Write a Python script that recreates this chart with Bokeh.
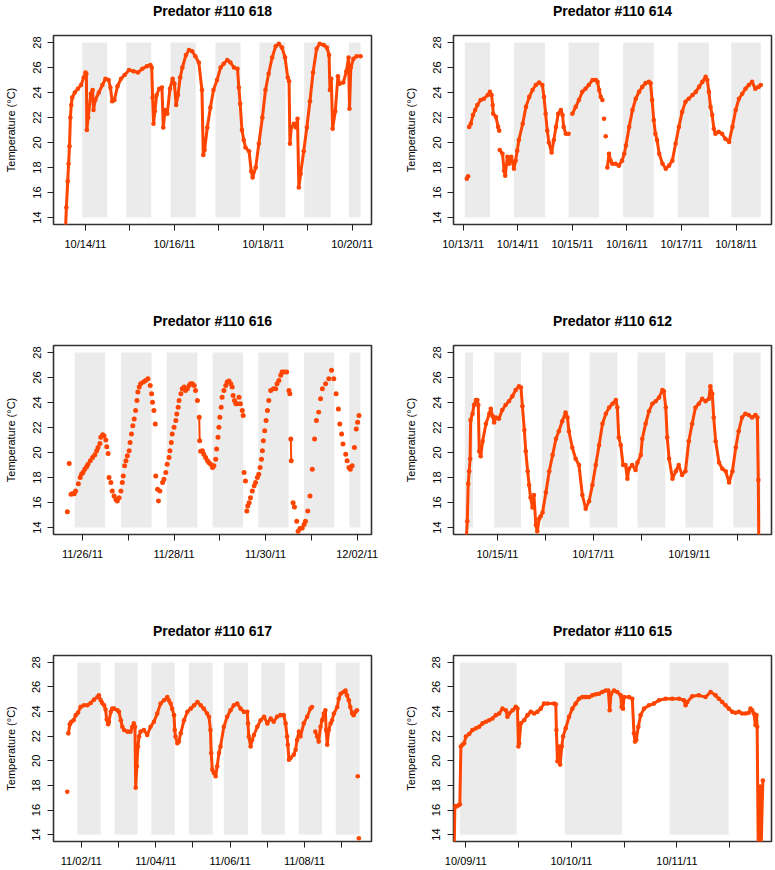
from bokeh.plotting import figure
from bokeh.layouts import column, row
from bokeh.models import FixedTicker, Range1d, Title
from bokeh.embed import file_html
from bokeh.resources import INLINE

NAN = float("nan")

TEMP_TICKS = [14, 16, 18, 20, 22, 24, 26, 28]
Y_LOW, Y_HIGH = 14, 28

# ---------- Predator #110 618 : time in days after 10/13/11 00:00 ----------
T618 = [0.55,0.57,0.60,0.62,0.64,0.66,0.68,0.70,0.76,0.83,0.90,0.96,1.00,1.02,1.03,1.06,1.12,1.16,1.18,1.22,
        1.30,1.38,1.45,1.52,1.56,1.60,1.65,1.72,1.80,1.88,1.98,2.08,2.18,2.28,2.38,2.46,2.49,2.51,2.53,2.56,
        2.60,2.66,2.72,2.75,2.79,2.84,2.90,2.96,3.00,3.04,3.08,3.13,3.18,3.26,3.33,3.40,3.47,3.55,3.62,3.65,
        3.68,3.74,3.81,3.88,3.96,4.04,4.11,4.19,4.26,4.34,4.42,4.45,4.48,4.52,4.56,4.60,4.68,4.73,4.76,4.83,
        4.90,4.98,5.05,5.12,5.20,5.28,5.35,5.42,5.49,5.55,5.58,5.60,5.63,5.69,5.74,5.77,5.80,5.84,5.91,5.98,
        6.05,6.12,6.20,6.27,6.36,6.43,6.48,6.50,6.53,6.56,6.62,6.68,6.72,6.80,6.87,6.92,6.94,6.97,7.03,7.10,7.19]
V618 = [13.0,14.8,16.9,18.3,19.7,22.0,23.0,23.6,24.0,24.3,24.6,25.2,25.6,25.5,21.0,22.0,23.9,24.2,22.6,23.4,
        24.0,24.6,25.1,25.0,24.4,23.3,23.4,24.5,25.1,25.4,25.8,25.7,25.6,25.9,26.1,26.2,26.0,23.6,21.5,22.5,
        23.8,24.3,24.4,21.2,22.6,22.3,24.3,25.1,24.7,23.0,23.8,25.2,26.0,27.0,27.4,27.3,26.9,26.4,24.2,19.0,
        19.4,21.2,22.8,24.2,25.0,26.0,26.3,26.6,26.4,26.0,25.9,24.4,23.1,21.0,20.2,19.6,19.3,17.7,17.2,18.0,
        19.9,22.0,24.2,25.5,26.8,27.7,27.9,27.6,26.8,25.2,24.9,19.9,21.2,21.5,21.2,21.9,16.4,17.5,19.3,21.2,
        23.3,25.6,27.5,27.9,27.8,27.6,27.0,24.2,25.1,21.1,22.5,25.3,24.7,24.8,25.7,26.8,22.7,26.0,26.7,26.9,26.9]
DARK618_START = [0.926, 1.916, 2.913, 3.925, 4.915, 5.920, 6.925]
DARK618_END = [1.488, 2.478, 3.482, 4.488, 5.500, 6.513, 7.190]
TICK618 = [1, 2, 3, 4, 5, 6, 7]
LAB618 = ["10/14/11", "", "10/16/11", "", "10/18/11", "", "10/20/11"]
XLIM618 = (0.28, 7.435)

# ---------- Predator #110 614 : days after 10/13/11 ----------
T614 = [0.067,0.09,NAN,0.11,0.14,0.18,0.22,0.26,0.32,0.38,0.45,0.49,0.52,0.54,0.55,0.60,0.64,0.66,NAN,
        0.67,0.72,0.75,0.77,0.81,0.84,0.88,0.93,0.96,0.99,1.02,1.09,1.15,1.21,1.27,1.33,1.39,1.45,1.48,1.51,
        1.54,1.57,1.62,1.66,1.70,1.74,1.79,1.82,1.84,1.88,1.93,NAN,2.00,2.06,2.12,2.18,2.24,2.30,2.37,2.43,
        2.46,2.49,2.52,2.55,NAN,2.58,NAN,2.61,NAN,2.64,2.67,2.70,2.73,2.79,2.85,2.91,2.95,2.98,3.04,3.10,
        3.16,3.22,3.28,3.34,3.40,3.43,3.46,3.49,3.52,3.55,3.59,3.65,3.71,3.77,3.83,3.89,3.95,4.01,4.07,4.13,
        4.20,4.26,4.32,4.38,4.44,4.47,4.50,4.53,4.56,4.59,4.62,4.68,4.74,4.80,4.87,4.93,4.99,5.05,5.11,5.17,
        5.23,5.29,5.35,5.41,5.45]
V614 = [17.1,17.3,NAN,21.25,21.5,22.2,22.6,23.0,23.4,23.5,23.8,24.05,23.8,23.0,22.3,22.05,21.25,20.95,NAN,
        19.4,19.1,17.75,17.35,18.85,18.3,18.85,17.9,18.55,19.35,20.2,21.5,22.85,23.65,24.2,24.6,24.8,24.6,23.65,22.3,
        20.95,20.0,19.2,20.2,21.25,22.3,22.6,22.2,21.25,20.7,20.7,NAN,22.3,22.85,23.4,24.05,24.3,24.6,25.0,25.0,
        24.85,24.2,23.65,23.4,NAN,21.9,NAN,20.5,NAN,18.0,19.1,18.55,18.3,18.3,18.15,18.55,19.1,19.75,21.25,22.6,
        23.5,24.05,24.45,24.75,24.85,24.75,23.4,21.8,20.7,20.2,19.1,18.3,17.9,18.15,18.55,19.9,21.25,22.45,23.25,23.5,
        23.8,24.05,24.45,24.85,25.25,25.0,24.05,22.85,22.2,21.1,20.7,20.85,20.7,20.3,20.05,21.25,22.6,23.5,23.9,24.3,
        24.6,24.85,24.3,24.45,24.6]
DARK614_START = [0.03, 0.93, 1.93, 2.93, 3.93, 4.91]
DARK614_END = [0.49, 1.50, 2.49, 3.49, 4.50, 5.45]
TICK614 = [0, 1, 2, 3, 4, 5]
LAB614 = ["10/13/11", "10/14/11", "10/15/11", "10/16/11", "10/17/11", "10/18/11"]
XLIM614 = (-0.177, 5.646)

# ---------- Predator #110 616 : days after 11/26/11 ----------
T616 = [-0.33,-0.29,-0.25,-0.22,-0.18,-0.15,-0.09,-0.05,-0.02,0.01,0.05,0.09,0.12,0.17,0.22,0.27,0.31,0.34,0.38,0.40,
        0.44,0.47,0.51,0.53,0.56,0.58,0.62,0.65,0.69,0.73,0.76,0.80,0.84,0.87,0.89,0.92,0.95,0.98,1.02,1.04,
        1.07,1.10,1.13,1.16,1.19,1.21,1.24,1.27,1.33,1.38,1.43,1.48,1.51,1.53,1.56,1.59,1.60,1.64,1.66,1.69,
        1.75,1.78,1.82,1.85,1.89,1.91,1.94,1.96,2.00,2.04,2.06,2.09,2.11,2.15,2.18,2.22,2.25,2.29,2.33,2.36,
        2.40,2.44,2.47,2.51,2.55,2.56,2.58,2.62,2.65,2.69,2.73,2.76,2.80,2.84,2.87,2.91,2.93,2.96,2.98,3.00,
        3.03,3.05,3.09,3.13,3.16,3.20,3.24,3.27,3.29,3.32,3.35,3.38,3.42,3.45,3.49,3.51,3.53,3.56,3.59,3.61,
        3.64,3.67,3.71,3.75,3.78,3.82,3.85,3.88,3.91,3.93,3.95,3.98,4.01,4.04,4.07,4.11,4.17,4.22,4.25,4.29,
        4.33,4.36,4.40,4.46,4.51,4.53,4.55,4.56,4.60,4.63,4.68,4.71,4.75,4.80,4.84,4.87,4.92,4.97,5.02,5.07,
        5.11,5.16,5.20,5.24,5.31,5.38,5.44,5.49,5.54,5.59,5.62,5.66,5.69,5.75,5.78,5.82,5.85,5.89,5.94,5.98,
        6.01,6.04]
V616 = [15.26,19.12,16.66,16.71,16.71,16.92,17.5,18.0,18.27,18.4,18.67,18.86,19.07,19.34,19.6,19.82,20.14,20.41,20.73,21.22,
        21.43,21.35,21.0,20.46,19.93,18.0,17.6,16.92,16.52,16.25,16.12,16.39,16.92,17.6,18.13,18.94,19.34,19.74,20.14,20.81,
        21.48,22.15,22.69,23.36,24.17,24.84,25.24,25.5,25.64,25.77,25.91,25.37,24.7,24.03,23.36,22.29,18.13,17.06,16.12,16.92,
        17.6,17.86,18.4,19.07,19.6,20.14,20.81,21.48,22.02,22.56,23.09,23.63,24.17,24.7,25.1,25.24,24.97,25.1,25.37,25.5,
        25.5,25.37,24.97,24.17,22.82,20.95,20.1,20.14,19.87,19.6,19.34,19.2,19.07,18.8,18.94,19.47,20.28,21.22,22.02,22.82,
        23.63,24.43,24.97,25.37,25.64,25.72,25.5,25.24,24.57,24.17,23.9,23.9,24.43,23.9,23.36,22.96,18.4,17.73,15.32,15.72,
        15.99,16.39,16.92,17.33,17.6,18.0,18.27,18.8,19.47,20.14,20.95,21.75,22.56,23.36,24.17,24.97,25.1,25.1,25.5,25.77,
        26.18,26.44,26.44,26.44,24.97,24.7,21.08,19.34,15.99,15.64,14.51,13.7,13.92,13.97,14.24,14.51,15.32,16.52,18.67,21.08,
        22.56,23.23,24.3,25.1,25.5,25.91,26.58,25.91,24.7,23.49,22.29,21.48,20.68,19.87,19.34,18.8,18.67,18.94,20.41,21.89,
        22.42,22.96]
LINK616 = [84, 146]          # readings joined to the next one
DARK616_START = [-0.17, 0.84, 1.84, 2.84, 3.84, 4.84, 5.83]
DARK616_END = [0.49, 1.51, 2.51, 3.51, 4.50, 5.50, 6.07]
TICK616 = [0, 1, 2, 3, 4, 5, 6]
LAB616 = ["11/26/11", "", "11/28/11", "", "11/30/11", "", "12/02/11"]
XLIM616 = (-0.633, 6.313)

# ---------- Predator #110 612 : days after 10/14/11 ----------
T612 = [0.35,0.37,0.39,0.41,0.43,0.44,0.48,0.51,0.55,0.58,0.60,0.62,0.65,0.69,0.76,0.83,0.86,0.90,0.93,0.97,
        1.03,1.10,1.17,1.24,1.31,1.38,1.45,1.49,1.52,1.56,1.59,1.63,1.66,1.69,1.73,1.76,1.80,1.83,1.87,1.90,
        1.94,2.01,2.08,2.15,2.22,2.28,2.35,2.42,2.46,2.49,2.56,2.63,2.70,2.77,2.84,2.91,2.98,3.05,3.12,3.19,
        3.26,3.33,3.40,3.47,3.50,3.53,3.57,3.62,3.67,3.71,3.74,3.81,3.88,3.92,3.99,4.02,4.09,4.16,4.23,4.30,
        4.37,4.44,4.47,4.51,4.54,4.58,4.65,4.72,4.78,4.85,4.92,4.99,5.06,5.13,5.20,5.27,5.34,5.41,5.44,5.48,
        5.51,5.55,5.62,5.69,5.76,5.83,5.90,5.97,6.03,6.10,6.17,6.24,6.31,6.38,6.42,6.44,6.45]
V612 = [13.0,14.5,17.5,18.5,19.5,22.6,23.1,23.8,24.2,24.2,23.8,20.1,19.7,20.9,22.3,23.1,23.5,22.9,22.4,22.8,
        22.7,23.4,23.8,24.1,24.5,25.0,25.3,25.2,23.7,21.8,20.1,18.5,17.4,16.4,15.6,16.6,14.2,13.7,14.7,14.9,
        15.2,16.8,18.5,19.8,21.1,21.7,22.5,23.2,22.8,21.7,20.4,19.5,19.0,16.6,15.5,16.1,17.4,19.0,20.6,22.3,
        23.1,23.6,23.9,24.2,23.6,21.2,20.6,19.0,19.0,17.9,18.7,19.0,18.6,19.2,19.8,21.1,22.3,23.3,23.9,24.1,
        24.4,25.0,24.9,23.6,21.2,19.5,17.9,18.5,19.0,18.2,18.5,20.9,22.3,23.6,23.9,24.3,24.1,24.3,25.3,24.7,
        22.8,20.9,19.2,18.7,18.5,17.6,18.5,20.4,21.7,22.8,23.1,23.0,22.8,23.0,22.8,17.8,13.0]
DARK612_START = [0.32, 0.93, 1.93, 2.92, 3.92, 4.92, 5.92]
DARK612_END = [0.49, 1.49, 2.49, 3.50, 4.50, 5.50, 6.49]
TICK612 = [1, 2, 3, 4, 5, 6]
LAB612 = ["10/15/11", "", "10/17/11", "", "10/19/11", ""]
XLIM612 = (0.083, 6.715)

# ---------- Predator #110 617 : days after 11/02/11 ----------
T617 = [-0.38,NAN,-0.35,-0.31,-0.27,-0.21,-0.15,-0.09,-0.02,0.07,0.16,0.25,0.34,0.43,0.47,0.52,0.56,0.61,0.65,0.68,
        0.72,0.74,0.79,0.83,0.88,0.97,1.01,1.06,1.10,1.15,1.24,1.32,1.37,1.41,1.44,1.46,1.49,1.52,1.55,1.59,
        1.68,1.77,1.86,1.95,2.04,2.13,2.22,2.31,2.35,2.40,2.44,2.49,2.51,2.53,2.58,2.62,2.67,2.76,2.85,2.94,
        3.03,3.12,3.21,3.29,3.38,3.43,3.47,3.49,3.52,3.56,3.61,3.65,3.70,3.74,3.83,3.92,4.01,4.10,4.19,4.28,
        4.37,4.46,4.48,4.50,4.55,4.59,4.64,4.73,4.82,4.91,5.00,5.09,5.17,5.26,5.35,5.44,5.49,5.53,5.55,5.58,
        5.62,5.71,5.76,5.80,5.85,5.89,5.98,6.07,6.16,6.20,NAN,6.29,6.34,6.38,6.43,6.47,6.52,6.56,6.58,6.61,
        6.65,6.70,6.74,6.79,6.88,6.92,6.97,7.05,7.10,7.14,7.19,7.23,7.28,7.32,7.37,7.41,NAN,7.43,NAN,7.46]
V617 = [17.49,NAN,22.23,22.98,23.17,23.3,23.71,23.92,24.38,24.51,24.51,24.7,24.97,25.18,25.32,24.92,24.7,24.51,24.17,23.36,
        22.98,23.17,23.98,24.24,24.24,24.11,23.98,23.3,22.77,22.5,22.37,22.37,22.77,23.04,22.77,17.81,19.55,21.16,21.97,22.37,
        22.5,22.1,22.77,23.17,23.84,24.65,24.92,25.18,24.92,24.65,24.24,23.71,22.5,21.97,21.43,21.56,22.23,23.3,23.98,24.24,
        24.51,24.78,24.51,24.24,23.84,23.58,22.5,20.63,19.28,19.02,18.75,19.55,20.63,21.16,22.77,23.58,24.11,24.51,24.65,24.24,
        23.98,23.98,23.04,21.97,21.16,21.7,22.1,22.77,23.3,23.58,23.04,23.44,23.17,23.58,23.71,23.71,23.04,21.97,21.3,20.09,
        20.22,20.49,20.9,21.7,22.37,21.97,23.04,23.58,24.24,24.38,NAN,22.37,21.97,21.56,22.77,23.3,23.84,24.11,22.5,21.3,
        22.5,23.04,23.3,23.84,24.38,25.05,25.45,25.59,25.72,25.32,24.92,24.38,23.84,23.71,23.98,24.11,NAN,18.75,NAN,13.71]
DARK617_START = [-0.11, 0.89, 1.88, 2.89, 3.83, 4.84, 5.84, 6.84]
DARK617_END = [0.52, 1.51, 2.51, 3.53, 4.48, 5.47, 6.47, 7.48]
TICK617 = [0, 1, 2, 3, 4, 5, 6, 7]
LAB617 = ["11/02/11", "", "11/04/11", "", "11/06/11", "", "11/08/11", ""]
XLIM617 = (-0.75, 7.80)

# ---------- Predator #110 615 : days after 10/09/11 ----------
T615 = [-0.11,-0.104,-0.088,-0.069,-0.057,-0.047,-0.032,-0.016,0.0,0.032,0.063,0.095,0.126,0.158,0.189,0.221,0.252,0.284,0.315,0.347,
        0.379,0.394,0.41,0.442,0.473,0.489,0.498,0.505,0.521,0.552,0.584,0.615,0.647,0.678,0.71,0.741,0.773,0.836,0.852,0.858,
        0.868,0.883,0.893,0.909,0.921,0.946,0.978,1.009,1.041,1.073,1.104,1.136,1.167,1.199,1.23,1.262,1.293,1.325,1.35,1.363,
        1.375,1.404,1.435,1.467,1.476,1.489,1.498,1.546,1.577,1.593,1.603,1.615,1.634,1.656,1.688,1.735,1.782,1.83,1.893,1.956,
        2.019,2.066,2.082,2.098,2.145,2.208,2.271,2.319,2.366,2.397,2.429,2.461,2.492,2.524,2.555,2.587,2.618,2.65,2.681,2.697,
        2.713,2.729,2.744,2.754,2.76,2.77,2.789,2.798,2.814]
V615 = [13.0,16.33,16.28,16.39,16.47,21.16,21.3,21.43,21.97,22.18,22.5,22.64,22.77,23.04,23.17,23.3,23.44,23.71,23.84,24.24,
        24.11,23.58,23.84,24.11,24.38,24.24,21.16,21.43,23.04,23.3,23.71,23.98,23.84,23.98,24.24,24.65,24.65,24.65,24.6,22.5,
        19.96,21.16,19.69,21.16,21.97,22.64,23.58,24.24,24.65,25.05,25.18,25.18,25.18,25.32,25.4,25.45,25.59,25.72,25.72,24.11,
        25.45,25.72,25.59,25.32,24.38,24.24,25.18,25.18,25.05,22.23,21.56,21.7,22.77,23.71,24.24,24.51,24.65,24.92,25.05,25.05,
        25.05,24.92,24.51,24.78,25.24,25.32,25.18,25.59,25.32,25.05,24.78,24.51,24.24,23.98,23.9,23.98,23.84,23.84,23.9,24.24,
        24.11,23.84,22.91,23.71,22.77,13.0,17.9,13.0,18.4]
DARK615_START = [-0.057, 0.937, 1.93]
DARK615_END = [0.48, 1.48, 2.49]
TICK615 = [0, 0.5, 1, 1.5, 2, 2.5]
LAB615 = ["10/09/11", "", "10/10/11", "", "10/11/11", ""]
XLIM615 = (-0.117, 2.896)

ORANGE = "#FF4500"
BAND = "#EBEBEB"
FONT = "Liberation Sans"


def panel(name, t, v, d0, d1, ticks, labels, xlim, col, rix, joined=True, links=None):
    width = 400 if col == 0 else 374
    height = [310, 310, 249][rix]
    pad = 0.04 * (Y_HIGH - Y_LOW)
    p = figure(width=width, height=height, output_backend="svg", toolbar_location=None,
               x_range=Range1d(*xlim), y_range=Range1d(Y_LOW - pad, Y_HIGH + pad),
               min_border_left=53,
               min_border_right=29 if col == 0 else 3,
               min_border_top=34,
               min_border_bottom=86 if rix < 2 else 25,
               background_fill_color="white", border_fill_color="white")
    # gap between the title and the plot box
    p.add_layout(Title(text=" ", text_font_size="10px", standoff=4), "above")
    p.title.text = name
    p.title.align = "center"
    p.title.text_font = FONT
    p.title.text_font_size = "14px"
    p.title.text_font_style = "bold"
    p.title.text_color = "black"
    p.title.standoff = 0
    p.xgrid.visible = False
    p.ygrid.visible = False
    p.outline_line_color = "#333333"
    p.outline_line_width = 1.6
    p.outline_line_alpha = 1

    p.quad(left=d0, right=d1, bottom=Y_LOW, top=Y_HIGH, fill_color=BAND, line_color=None)
    if joined:
        p.line(t, v, color=ORANGE, line_width=3)
    if links:
        p.segment(x0=[t[i] for i in links], y0=[v[i] for i in links],
                  x1=[t[i + 1] for i in links], y1=[v[i + 1] for i in links],
                  color=ORANGE, line_width=2)
    p.scatter(t, v, size=5 if not joined else 4.6, color=ORANGE, line_color=None)

    for ax in (p.xaxis, p.yaxis):
        ax.axis_line_color = None
        ax.major_tick_line_color = "#222222"
        ax.major_tick_line_width = 1
        ax.major_tick_out = 6
        ax.major_tick_in = 0
        ax.minor_tick_line_color = None
        ax.major_label_text_font = FONT
        ax.major_label_text_font_size = "11px"
        ax.major_label_text_color = "black"
        ax.major_label_standoff = 7
    p.xaxis.ticker = FixedTicker(ticks=ticks)
    p.xaxis.major_label_overrides = {tk: lb for tk, lb in zip(ticks, labels)}
    p.yaxis.ticker = FixedTicker(ticks=TEMP_TICKS)
    p.yaxis.major_label_orientation = "vertical"
    p.yaxis.axis_label = "Temperature (°C)"
    p.yaxis.axis_label_text_font = FONT
    p.yaxis.axis_label_text_font_size = "11px"
    p.yaxis.axis_label_text_font_style = "normal"
    p.yaxis.axis_label_text_color = "black"
    p.yaxis.axis_label_standoff = 13
    return p


p1 = panel("Predator #110 618", T618, V618, DARK618_START, DARK618_END, TICK618, LAB618, XLIM618, 0, 0)
p2 = panel("Predator #110 614", T614, V614, DARK614_START, DARK614_END, TICK614, LAB614, XLIM614, 1, 0)
p3 = panel("Predator #110 616", T616, V616, DARK616_START, DARK616_END, TICK616, LAB616, XLIM616, 0, 1,
           joined=False, links=LINK616)
p4 = panel("Predator #110 612", T612, V612, DARK612_START, DARK612_END, TICK612, LAB612, XLIM612, 1, 1)
p5 = panel("Predator #110 617", T617, V617, DARK617_START, DARK617_END, TICK617, LAB617, XLIM617, 0, 2)
p6 = panel("Predator #110 615", T615, V615, DARK615_START, DARK615_END, TICK615, LAB615, XLIM615, 1, 2)

layout = column(row(p1, p2), row(p3, p4), row(p5, p6))
open("out.html", "w").write(file_html(layout, INLINE))
